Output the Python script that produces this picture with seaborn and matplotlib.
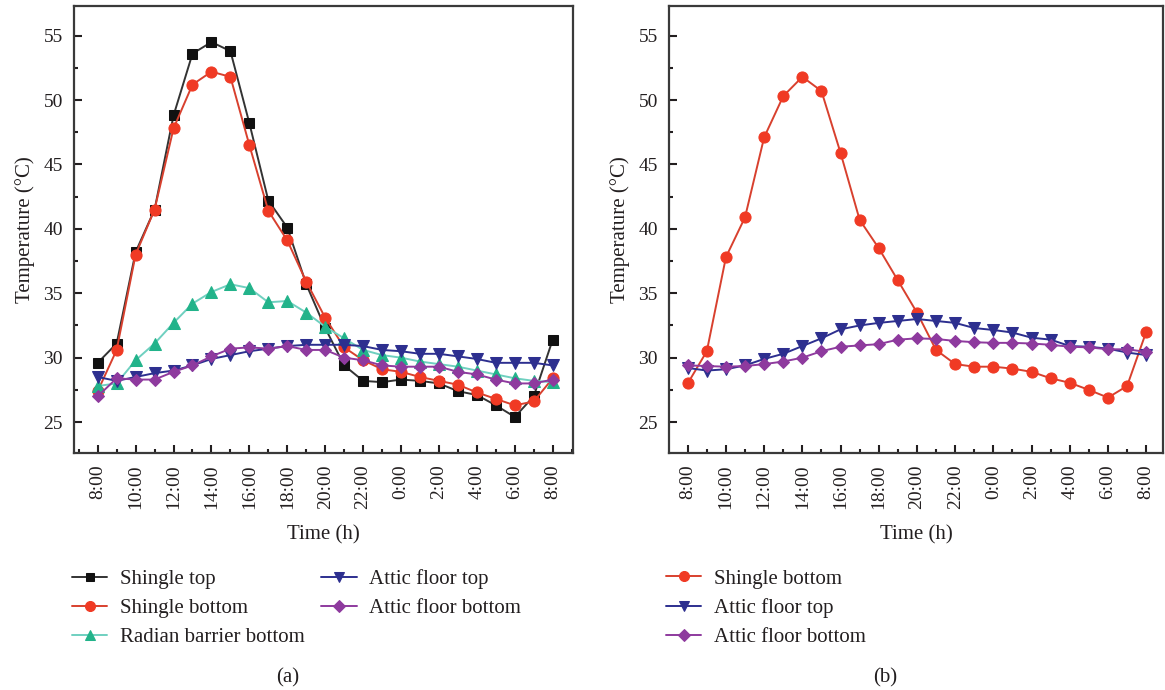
import pandas as pd
import matplotlib.pyplot as plt
import seaborn as sns
from matplotlib.ticker import MultipleLocator

# --- data (hour index 0 = 8:00, 24 = 8:00 next day) ---
hours = list(range(25))
tick_labels = ["8:00", "10:00", "12:00", "14:00", "16:00", "18:00", "20:00",
               "22:00", "0:00", "2:00", "4:00", "6:00", "8:00"]

# panel (a)
a_shingle_top = [29.6, 31.1, 38.2, 41.5, 48.8, 53.6, 54.5, 53.8, 48.2, 42.2, 40.1, 35.7, 32.3,
                 29.4, 28.2, 28.1, 28.3, 28.2, 28.0, 27.4, 27.1, 26.3, 25.4, 27.0, 31.4]
a_shingle_bottom = [27.4, 30.6, 38.0, 41.5, 47.8, 51.2, 52.2, 51.8, 46.5, 41.4, 39.1, 35.9, 33.1,
                    30.8, 29.8, 29.1, 28.9, 28.5, 28.2, 27.9, 27.3, 26.8, 26.3, 26.6, 28.4]
a_radiant_bottom = [27.8, 28.0, 29.8, 31.1, 32.7, 34.2, 35.1, 35.7, 35.4, 34.3, 34.4, 33.5, 32.4,
                    31.5, 30.6, 30.2, 30.0, 29.7, 29.5, 29.3, 29.0, 28.7, 28.4, 28.2, 28.1]
a_attic_top = [28.5, 28.2, 28.5, 28.8, 29.0, 29.4, 29.9, 30.2, 30.5, 30.7, 30.9, 31.0, 31.0,
               31.0, 30.9, 30.6, 30.5, 30.3, 30.3, 30.1, 29.9, 29.6, 29.6, 29.6, 29.4]
a_attic_bottom = [27.0, 28.4, 28.3, 28.3, 28.9, 29.4, 30.1, 30.7, 30.8, 30.7, 30.9, 30.6, 30.6,
                  30.0, 29.8, 29.4, 29.3, 29.3, 29.3, 28.9, 28.7, 28.3, 28.0, 28.0, 28.3]

# panel (b)
b_shingle_bottom = [28.0, 30.5, 37.8, 40.9, 47.1, 50.3, 51.8, 50.7, 45.9, 40.7, 38.5, 36.0, 33.5,
                    30.6, 29.5, 29.3, 29.3, 29.15, 28.9, 28.4, 28.05, 27.5, 26.9, 27.8, 32.0]
b_attic_top = [29.2, 29.0, 29.1, 29.4, 29.9, 30.3, 30.9, 31.5, 32.2, 32.5, 32.7, 32.85, 33.0,
               32.85, 32.7, 32.3, 32.15, 31.95, 31.55, 31.4, 30.9, 30.85, 30.7, 30.4, 30.2]
b_attic_bottom = [29.4, 29.35, 29.3, 29.35, 29.5, 29.7, 30.0, 30.5, 30.85, 30.95, 31.05, 31.4, 31.5,
                  31.45, 31.3, 31.2, 31.15, 31.15, 31.1, 31.0, 30.85, 30.8, 30.65, 30.65, 30.45]

# --- style ---
sns.set_theme(style="white")
plt.rcParams['font.family'] = ['Liberation Serif', 'DejaVu Serif']
plt.rcParams['text.color'] = '#231f20'
plt.rcParams['axes.labelcolor'] = '#231f20'
plt.rcParams['xtick.color'] = '#231f20'
plt.rcParams['ytick.color'] = '#231f20'

# label -> marker, line colour, marker colour, marker size
styles = {
    "Shingle top": ("s", "#333333", "#111111", 7),
    "Shingle bottom": ("o", "#d8402e", "#f03a24", 8),
    "Radian barrier bottom": ("^", "#6fd0c0", "#22b38a", 8),
    "Attic floor top": ("v", "#2d2f8f", "#2d2f8f", 8),
    "Attic floor bottom": ("D", "#8e3a9e", "#8e3a9e", 6.5),
}

fig = plt.figure(figsize=(11.65, 6.9), dpi=100)
ax_a = fig.add_axes([74 / 1165, 1 - 453 / 690, (573 - 74) / 1165, (453 - 6) / 690])
ax_b = fig.add_axes([669 / 1165, 1 - 453 / 690, (1163 - 669) / 1165, (453 - 6) / 690])


def draw(ax, series):
    for name, values in series:
        marker, lc, mc, ms = styles[name]
        sns.lineplot(x=hours, y=values, ax=ax, color=lc, marker=marker,
                     markersize=ms, markerfacecolor=mc, markeredgecolor=mc,
                     linewidth=1.4, label=name, legend=False)


draw(ax_a, [("Shingle top", a_shingle_top), ("Shingle bottom", a_shingle_bottom),
            ("Radian barrier bottom", a_radiant_bottom), ("Attic floor top", a_attic_top),
            ("Attic floor bottom", a_attic_bottom)])
draw(ax_b, [("Shingle bottom", b_shingle_bottom), ("Attic floor top", b_attic_top),
            ("Attic floor bottom", b_attic_bottom)])

ax_a.set_xlim(-1.25, 25.07)
ax_b.set_xlim(-0.98, 24.88)

for ax in (ax_a, ax_b):
    ax.set_ylim(22.6, 57.3)
    ax.set_xticks(hours[::2])
    ax.set_xticklabels(tick_labels, rotation=90)
    ax.xaxis.set_minor_locator(MultipleLocator(1))
    ax.set_yticks([25, 30, 35, 40, 45, 50, 55])
    ax.yaxis.set_minor_locator(MultipleLocator(2.5))
    ax.tick_params(axis='both', which='major', direction='in', length=6, width=1.5,
                   labelsize=14, pad=8, bottom=True, left=True)
    ax.tick_params(axis='both', which='minor', direction='in', length=3, width=1.5,
                   bottom=True, left=True)
    for sp in ax.spines.values():
        sp.set_color('#3a3a3a')
        sp.set_linewidth(1.6)
    ax.set_xlabel('Time (h)', fontsize=15, labelpad=12)
    ax.set_ylabel('Temperature (°C)', fontsize=15, labelpad=6)

leg_kw = dict(loc='upper left', bbox_transform=fig.transFigure, frameon=False,
              fontsize=15, handlelength=1.7, handletextpad=0.6, labelspacing=0.45,
              borderaxespad=0, borderpad=0, markerscale=0.9)
h, l = ax_a.get_legend_handles_labels()
ax_a.legend(h, l, ncol=2, columnspacing=0.8, bbox_to_anchor=(72 / 1165, 1 - 569 / 690), **leg_kw)
h, l = ax_b.get_legend_handles_labels()
ax_b.legend(h, l, ncol=1, bbox_to_anchor=(666 / 1165, 1 - 569 / 690), **leg_kw)

fig.text(288 / 1165, 1 - 678 / 690, '(a)', ha='center', va='center', fontsize=15)
fig.text(885 / 1165, 1 - 678 / 690, '(b)', ha='center', va='center', fontsize=15)

fig.savefig('out.png', dpi=100)
